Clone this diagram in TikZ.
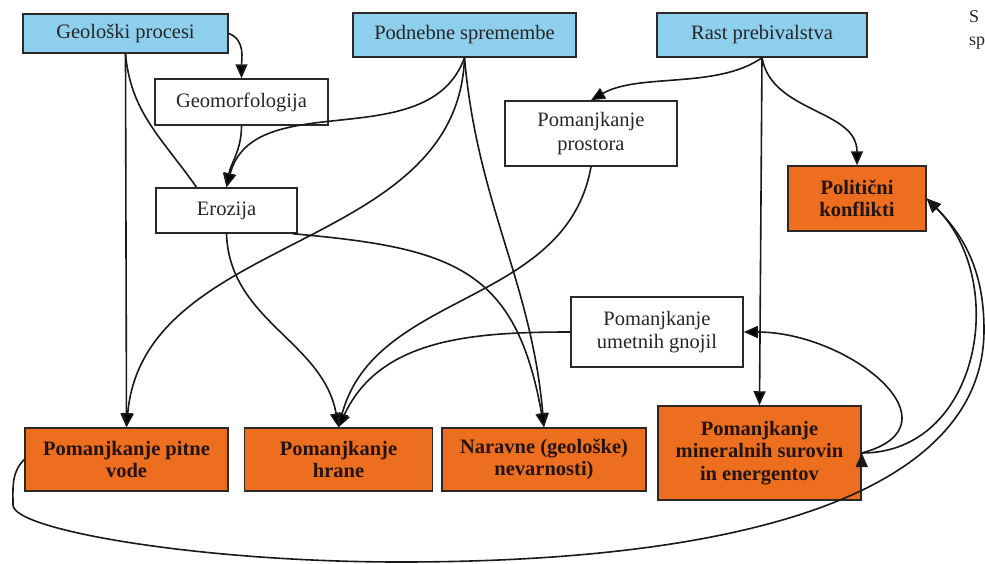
\documentclass[tikz,border=0pt]{standalone}
\usepackage{fontspec}
\setmainfont{Liberation Serif}
\usepackage{xcolor}
\usepackage{tikz}
\usetikzlibrary{positioning,arrows.meta}
\definecolor{nebo}{RGB}{142,207,238}
\definecolor{oranzna}{RGB}{238,110,32}
\definecolor{obroba}{RGB}{45,40,40}
\definecolor{crnilo}{RGB}{35,20,15}
\tikzset{cause node/.style={rectangle,fill=nebo,draw=obroba,line width=1.5pt,inner sep=0pt,align=center,text=black!85,font=\fontsize{20.5}{23.5}\selectfont},
plain node/.style={rectangle,fill=white,draw=obroba,line width=1.5pt,inner sep=0pt,align=center,text=black!85,font=\fontsize{20.5}{23.5}\selectfont},
effect node/.style={rectangle,fill=oranzna,draw=obroba,line width=1.5pt,inner sep=0pt,align=center,text=crnilo,font=\bfseries\fontsize{20.5}{22.5}\selectfont},
link/.style={draw=black!90,line width=1.6pt,-{Triangle[length=14pt,width=12pt]}},}

\begin{document}
\begin{tikzpicture}[x=1pt,y=-1pt]
    \useasboundingbox (0,0) rectangle (985,563);

    \node[cause node,minimum width=205pt,minimum height=39pt] (geo) at (125.5,33.5) {Geološki procesi};
    \node[cause node,minimum width=223pt,minimum height=44pt] (podn) at (464.5,35) {Podnebne spremembe};
    \node[cause node,minimum width=210pt,minimum height=44pt] (rast) at (762,35) {Rast prebivalstva};

    \node[plain node,minimum width=173pt,minimum height=46pt] (geom) at (241.5,102) {Geomorfologija};
    \node[plain node,minimum width=141pt,minimum height=45pt] (erozija) at (226.5,210.5) {Erozija};
    \node[plain node,minimum width=172pt,minimum height=65pt] (prostor) at (591,133.5) {Pomanjkanje\\prostora};
    \node[plain node,minimum width=172pt,minimum height=70pt] (gnojil) at (657,332) {Pomanjkanje\\umetnih gnojil};

    \node[effect node,minimum width=138pt,minimum height=65pt] (polit) at (857,198.5) {Politični\\konflikti};
    \node[effect node,minimum width=203pt,minimum height=63pt] (voda) at (126.5,459.5) {Pomanjkanje pitne\\vode};
    \node[effect node,minimum width=188pt,minimum height=63pt] (hrana) [right = 15pt of voda] {Pomanjkanje\\hrane};
    \node[effect node,minimum width=204pt,minimum height=63pt] (naravne) [right = 8pt of hrana] {Naravne (geološke)\\nevarnosti)};
    \node[effect node,minimum width=203pt,minimum height=94pt] (mineral) at (759.5,453) {Pomanjkanje\\mineralnih surovin\\in energentov};

    \node[anchor=north west,align=left,inner sep=0pt,text=black!85,font=\fontsize{18}{23}\selectfont] (napis) at (969,10) {S\\sp};

    \coordinate (loopa) at (13,505);
    \coordinate (loopb) at (400,562);
    \coordinate (loopc) at (984,330);

    \path[link]
    (geo.east) edge[out=-20,in=90] (geom.north)
    (geo.south) edge[-,out=-85,in=125] ([xshift=-30pt]erozija.north)
    (geo.south) edge (voda.north)
    (geom.south) edge[out=-90,in=80] (erozija.north)
    (podn.south) edge[out=-110,in=75] (erozija.north)
    (podn.south) edge[out=-92,in=85] (voda.north)
    (podn.south) edge[out=-85,in=95] (naravne.north)
    (erozija.south) edge[out=-88,in=100] (hrana.north)
    ([xshift=-5pt]erozija.south east) edge[out=-5,in=100,looseness=1.3] (naravne.north)
    (prostor.south) edge[out=-100,in=75] (hrana.north)
    (gnojil.west) edge[out=180,in=65] (hrana.north)
    (rast.south) edge[out=-145,in=30,looseness=.8] (prostor.north)
    (rast.south) edge[out=-80,in=90] (polit.north)
    (rast.south) edge (mineral.north)
    (mineral.east) edge[out=15,in=0,looseness=1.6] (gnojil.east)
    (mineral.east) edge[out=0,in=-45,looseness=1.15] (polit.east)
    ;

    \draw[link] (voda.west) to[out=-135,in=90] (loopa)
    to[out=-90,in=180,out distance=25pt,in distance=200pt] (loopb)
    to[out=0,in=-90,out distance=380pt,in distance=150pt] (loopc)
    to[out=90,in=-45] (polit.east);
\end{tikzpicture}
\end{document}
